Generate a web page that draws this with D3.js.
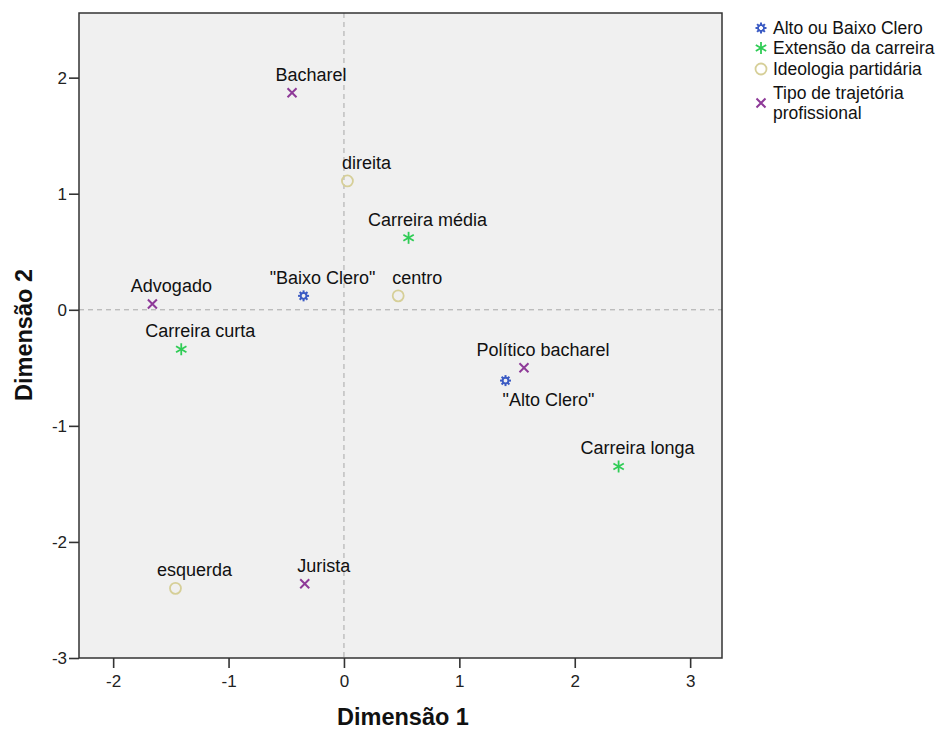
<!DOCTYPE html>
<html><head><meta charset="utf-8">
<script src="https://cdn.jsdelivr.net/npm/d3@7"></script>
<style>body{margin:0;background:#fff;}svg{display:block;font-family:"Liberation Sans",Arial,sans-serif;}</style>
</head><body>
<svg id="chart" width="949" height="732"></svg>
<script>
// ---- data ----
const groups = ["Alto ou Baixo Clero", "Extensão da carreira", "Ideologia partidária", "Tipo de trajetória profissional"];
const pointLabels = ["Bacharel", "direita", "Carreira média", "\"Baixo Clero\"", "centro", "Advogado", "Carreira curta", "Político bacharel", "\"Alto Clero\"", "Carreira longa", "esquerda", "Jurista"];
const pointGroup = [3, 2, 1, 0, 2, 3, 1, 3, 0, 1, 2, 3];
const dim1 = [-0.45, 0.03, 0.56, -0.35, 0.47, -1.66, -1.41, 1.56, 1.40, 2.38, -1.46, -0.34];
const dim2 = [1.87, 1.11, 0.62, 0.12, 0.12, 0.05, -0.34, -0.50, -0.61, -1.35, -2.40, -2.36];
const xTicks = [-2, -1, 0, 1, 2, 3];
const yTicks = [-3, -2, -1, 0, 1, 2];

// label placement (presentation only)
const labelPlace = {"\"Alto Clero\"": [43, 25]};
const groupColors = ["#3b5bc4", "#2fcc55", "#d6cf98", "#8e3a98"];

const svg = d3.select("#chart");
const L = 79, R = 722, T = 13, B = 658;
const x = d3.scaleLinear().domain([-2.296, 3.276]).range([L, R]);
const y = d3.scaleLinear().domain([-3, 2.557]).range([B, T]);

svg.append("rect").attr("x", L).attr("y", T).attr("width", R - L).attr("height", B - T)
  .attr("fill", "#f0f0f0");

// reference lines
svg.append("line").attr("x1", x(0)).attr("x2", x(0)).attr("y1", T).attr("y2", B)
  .attr("stroke", "#a8a8a8").attr("stroke-dasharray", "5,4").attr("stroke-width", 1);
svg.append("line").attr("x1", L).attr("x2", R).attr("y1", y(0)).attr("y2", y(0))
  .attr("stroke", "#a8a8a8").attr("stroke-dasharray", "5,4").attr("stroke-width", 1);

svg.append("rect").attr("x", L).attr("y", T).attr("width", R - L).attr("height", B - T)
  .attr("fill", "none").attr("stroke", "#333").attr("stroke-width", 1.5);

// axes
const fmt = d => String(d);
const xAxis = svg.append("g").attr("transform", `translate(0,${B})`)
  .call(d3.axisBottom(x).tickValues(xTicks).tickSize(10).tickPadding(7).tickFormat(fmt));
const yAxis = svg.append("g").attr("transform", `translate(${L},0)`)
  .call(d3.axisLeft(y).tickValues(yTicks).tickSize(10).tickPadding(2).tickFormat(fmt));
[xAxis, yAxis].forEach(a => {
  a.select(".domain").remove();
  a.selectAll(".tick line").attr("stroke", "#333").attr("stroke-width", 1.6);
  a.selectAll(".tick text").attr("font-size", 17).attr("fill", "#222")
    .attr("font-family", "'Liberation Sans', Arial, sans-serif");
});

// axis titles
svg.append("text").attr("x", 403).attr("y", 725).attr("text-anchor", "middle")
  .attr("font-size", 23.5).attr("font-weight", "bold").attr("fill", "#111").text("Dimensão 1");
svg.append("text").attr("transform", `translate(32,335) rotate(-90)`).attr("text-anchor", "middle")
  .attr("font-size", 23.5).attr("font-weight", "bold").attr("fill", "#111").text("Dimensão 2");

// markers
function drawMarker(g, gi, cx, cy) {
  const c = groupColors[gi];
  if (gi === 0) {
    for (let k = 0; k < 8; k++) {
      const a = k * Math.PI / 4;
      g.append("line").attr("x1", cx + Math.cos(a) * 2).attr("y1", cy + Math.sin(a) * 2)
        .attr("x2", cx + Math.cos(a) * 5.5).attr("y2", cy + Math.sin(a) * 5.5)
        .attr("stroke", c).attr("stroke-width", 2);
    }
    g.append("circle").attr("cx", cx).attr("cy", cy).attr("r", 3).attr("fill", "none")
      .attr("stroke", c).attr("stroke-width", 1.6);
  } else if (gi === 1) {
    for (let k = 0; k < 3; k++) {
      const a = Math.PI / 2 + k * Math.PI / 3;
      g.append("line").attr("x1", cx - Math.cos(a) * 6).attr("y1", cy - Math.sin(a) * 6)
        .attr("x2", cx + Math.cos(a) * 6).attr("y2", cy + Math.sin(a) * 6)
        .attr("stroke", c).attr("stroke-width", 1.8);
    }
  } else if (gi === 2) {
    g.append("circle").attr("cx", cx).attr("cy", cy).attr("r", 5.5).attr("fill", "none")
      .attr("stroke", c).attr("stroke-width", 1.8);
  } else {
    g.append("path").attr("d", `M${cx-4.5},${cy-4.5}L${cx+4.5},${cy+4.5}M${cx-4.5},${cy+4.5}L${cx+4.5},${cy-4.5}`)
      .attr("stroke", c).attr("stroke-width", 2);
  }
}

const pts = svg.append("g");
pointLabels.forEach((lab, i) => {
  const cx = x(dim1[i]), cy = y(dim2[i]);
  drawMarker(pts, pointGroup[i], cx, cy);
  const pl = labelPlace[lab] || [19, -12];
  pts.append("text").attr("x", cx + pl[0]).attr("y", cy + pl[1]).attr("text-anchor", "middle")
    .attr("font-size", 18).attr("fill", "#111").text(lab);
});

// legend
const leg = svg.append("g");
const legY = [28, 48, 69, 93];
groups.forEach((gname, i) => {
  drawMarker(leg, i, 761, legY[i] + (i === 3 ? 10 : 0));
  const words = i === 3 ? ["Tipo de trajetória", "profissional"] : [gname];
  words.forEach((w, j) => {
    leg.append("text").attr("x", 773).attr("y", legY[i] + 6 + j * 20).attr("font-size", 17.5)
      .attr("fill", "#111").text(w);
  });
});
</script>
</body></html>
